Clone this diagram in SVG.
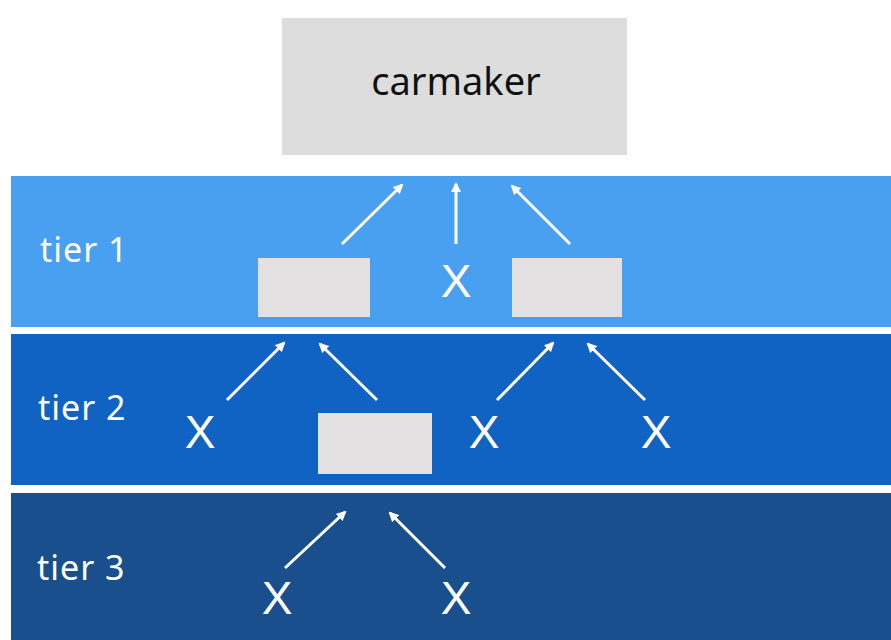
<svg xmlns="http://www.w3.org/2000/svg" width="891" height="640" viewBox="0 0 891 640">
<defs>
<marker id="ah" markerWidth="10" markerHeight="10" refX="8" refY="5" orient="auto" markerUnits="userSpaceOnUse">
<path d="M0,0 L10,5 L0,10 z" fill="#ffffff"/>
</marker>
<style>
.band-label{font-family:"Noto Sans","Open Sans",sans-serif;font-size:34px;fill:#ffffff;letter-spacing:1px}
.x{font-family:"Liberation Sans",Arial,sans-serif;font-size:46px;fill:#ffffff;text-anchor:middle}
.box{fill:#e2e0e0}
.conn{stroke:#ffffff;stroke-width:3;fill:none;marker-end:url(#ah)}
</style>
</defs>
<rect width="891" height="640" fill="#ffffff"/>
<g id="tier1"><rect x="11" y="176" width="880" height="151" fill="#4aa0f0"/><text class="band-label" x="40" y="262">tier 1</text></g>
<g id="tier2"><rect x="11" y="334" width="880" height="151" fill="#1063c2"/><text class="band-label" x="38" y="420">tier 2</text></g>
<g id="tier3"><rect x="11" y="493" width="880" height="147" fill="#194f8d"/><text class="band-label" x="37" y="580">tier 3</text></g>
<g id="carmaker"><rect x="282" y="18" width="345" height="137" fill="#dddddd"/><text x="456" y="95" font-family="Noto Sans, Open Sans, sans-serif" font-size="38" fill="#111111" text-anchor="middle">carmaker</text></g>
<g id="t1-box-left"><rect class="box" x="258" y="258" width="112" height="59"/></g>
<g id="t1-box-right"><rect class="box" x="512" y="258" width="110" height="59"/></g>
<g id="t1-x"><text class="x" x="456" y="297">X</text></g>
<g id="t2-box"><rect class="box" x="318" y="413" width="114" height="61"/></g>
<g id="t2-x1"><text class="x" x="200" y="448">X</text></g>
<g id="t2-x2"><text class="x" x="484" y="448">X</text></g>
<g id="t2-x3"><text class="x" x="656" y="448">X</text></g>
<g id="t3-x1"><text class="x" x="277" y="614">X</text></g>
<g id="t3-x2"><text class="x" x="456" y="614">X</text></g>
<g id="connectors">
<line class="conn" x1="342" y1="244" x2="402" y2="185"/>
<line class="conn" x1="456" y1="244" x2="456" y2="184"/>
<line class="conn" x1="570" y1="244" x2="512" y2="186"/>
<line class="conn" x1="227" y1="400" x2="284" y2="343"/>
<line class="conn" x1="377" y1="400" x2="320" y2="344"/>
<line class="conn" x1="497" y1="400" x2="553" y2="343"/>
<line class="conn" x1="645" y1="400" x2="588" y2="344"/>
<line class="conn" x1="285" y1="568" x2="345" y2="512"/>
<line class="conn" x1="445" y1="568" x2="390" y2="513"/>
</g>
</svg>
